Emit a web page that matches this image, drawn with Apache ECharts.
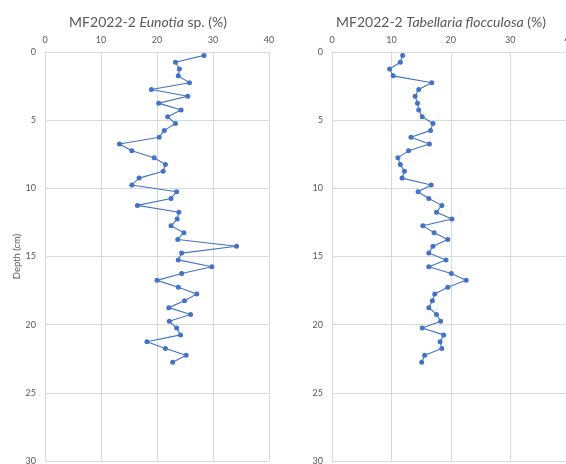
<!DOCTYPE html>
<html>
<head>
<meta charset="utf-8">
<script src="https://cdn.jsdelivr.net/npm/echarts@6/dist/echarts.min.js"></script>
<style>
html,body{margin:0;padding:0;background:#fff;overflow:hidden;}
#chart{width:566px;height:464px;}
</style>
</head>
<body>
<div id="chart"></div>
<script>
// Depth (cm) of each sample (mid-points of 0.5 cm slices)
const depths = [0.25,0.75,1.25,1.75,2.25,2.75,3.25,3.75,4.25,4.75,5.25,5.75,6.25,6.75,7.25,7.75,8.25,8.75,9.25,9.75,
  10.25,10.75,11.25,11.75,12.25,12.75,13.25,13.75,14.25,14.75,15.25,15.75,16.25,16.75,17.25,17.75,18.25,18.75,19.25,19.75,
  20.25,20.75,21.25,21.75,22.25,22.75];
// Eunotia sp. (%)
const eunotia = [28.4,23.3,24.0,23.8,25.8,19.0,25.5,20.3,24.3,21.9,23.3,21.3,20.4,13.3,15.5,19.5,21.5,21.1,16.8,15.5,
  23.5,22.5,16.5,23.9,23.6,22.5,24.8,23.7,34.2,24.4,23.8,29.8,24.4,20.0,23.8,27.1,24.9,22.1,26.0,22.2,
  23.5,24.2,18.2,21.5,25.2,22.8];
// Tabellaria flocculosa (%)
const tabellaria = [11.9,11.5,9.7,10.3,16.8,14.6,14.0,14.4,14.6,15.2,17.0,16.6,13.3,16.4,12.9,11.1,11.5,12.2,11.8,16.7,
  14.5,16.3,18.5,17.6,20.2,15.3,17.2,19.5,17.0,16.3,19.2,16.3,20.1,22.6,19.5,17.3,16.9,16.3,17.6,18.3,
  15.2,18.8,18.2,18.5,15.6,15.1];
const xTicks = [0,10,20,30,40];
const yTicks = [0,5,10,15,20,25,30];
const yAxisName = 'Depth (cm)';

const FONT = 'Lato, "Liberation Sans", sans-serif';
const GRID_C = '#d9d9d9';
const TXT_C = '#595959';
const BLUE = '#4472C4';

function xAx(gi){
  return {
    gridIndex: gi, type:'value', position:'top', min:xTicks[0], max:xTicks[xTicks.length-1], interval:10,
    axisLine:{show:true, lineStyle:{color:GRID_C, width:1}},
    axisTick:{show:false},
    splitLine:{show:true, lineStyle:{color:GRID_C, width:1}},
    axisLabel:{color:TXT_C, fontSize:9, fontFamily:FONT, margin:7}
  };
}
function yAx(gi, name){
  return {
    gridIndex: gi, type:'value', inverse:true, min:yTicks[0], max:yTicks[yTicks.length-1], interval:5,
    name: name || '', nameLocation:'middle', nameGap:22, nameRotate:90,
    nameTextStyle:{color:TXT_C, fontSize:9.5, fontFamily:FONT},
    axisLine:{show:true, lineStyle:{color:GRID_C, width:1}},
    axisTick:{show:false},
    splitLine:{show:true, lineStyle:{color:GRID_C, width:1}},
    axisLabel:{color:TXT_C, fontSize:9, fontFamily:FONT, margin:9}
  };
}
function ser(gi, vals){
  return {
    type:'line', xAxisIndex:gi, yAxisIndex:gi,
    data: vals.map((v,i)=>[v, depths[i]]),
    symbol:'circle', symbolSize:5,
    lineStyle:{color:BLUE, width:1.1},
    itemStyle:{color:BLUE},
    animation:false
  };
}

const chart = echarts.init(document.getElementById('chart'));
chart.setOption({
  backgroundColor:'#fff',
  animation:false,
  title:[
    {text:'MF2022-2 {i|Eunotia} sp. (%)', left:143, top:10, textAlign:'center',
     textStyle:{color:TXT_C, fontSize:14, fontWeight:'normal', fontFamily:FONT,
       rich:{i:{fontStyle:'italic', color:TXT_C, fontSize:14, fontFamily:FONT}}}},
    {text:'MF2022-2 {i|Tabellaria flocculosa} (%)', left:436, top:10, textAlign:'center',
     textStyle:{color:TXT_C, fontSize:14, fontWeight:'normal', fontFamily:FONT,
       rich:{i:{fontStyle:'italic', color:TXT_C, fontSize:14, fontFamily:FONT}}}}
  ],
  grid:[
    {left:45, width:224, top:52, height:409, outerBoundsMode:'none', containLabel:false},
    {left:332, width:237.5, top:52, height:409, outerBoundsMode:'none', containLabel:false}
  ],
  xAxis:[xAx(0), xAx(1)],
  yAxis:[yAx(0, yAxisName), yAx(1, '')],
  series:[ser(0, eunotia), ser(1, tabellaria)]
});
</script>
</body>
</html>
